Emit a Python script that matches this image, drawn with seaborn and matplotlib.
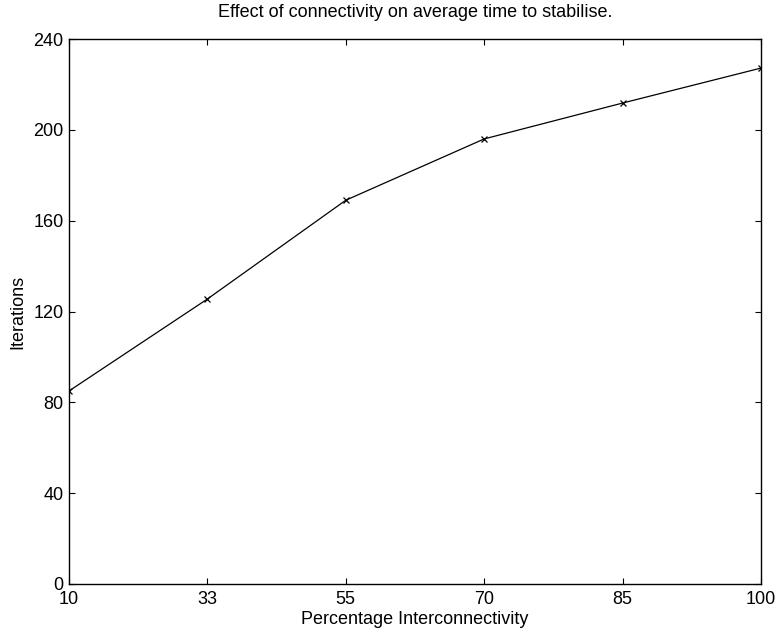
import matplotlib
matplotlib.use("Agg")
import matplotlib.pyplot as plt
import seaborn as sns
import pandas as pd

connectivity = ["10", "33", "55", "70", "85", "100"]
iterations = [85.0, 125.5, 169.0, 196.0, 211.8, 227.2]
y_ticks = [0, 40, 80, 120, 160, 200, 240]

sns.set_theme(style="white")
plt.rcParams['font.family'] = ['Liberation Sans', 'DejaVu Sans']

df = pd.DataFrame({"conn": connectivity, "iters": iterations})

fig = plt.figure(figsize=(7.79, 6.34), dpi=100)
ax = fig.add_axes([69/779, 50/634, (761-69)/779, (584-39)/634])

sns.lineplot(data=df, x="conn", y="iters", sort=False, ax=ax, color="black",
             linewidth=0.9, marker="x", markersize=5, markeredgewidth=0.9,
             markeredgecolor="black")

ax.set_xlim(0, len(connectivity) - 1)
ax.set_ylim(0, 240)
ax.set_yticks(y_ticks)
ax.set_yticklabels([str(t) for t in y_ticks])
ax.set_xticks(range(len(connectivity)))
ax.set_xticklabels(connectivity)

for s in ax.spines.values():
    s.set_visible(True)
    s.set_color("black")
    s.set_linewidth(1.0)

ax.tick_params(axis="both", which="both", direction="in", length=4.5, width=0.8,
               top=True, right=True, bottom=True, left=True,
               labelsize=13, colors="black")
ax.tick_params(axis="x", pad=5)
ax.tick_params(axis="y", pad=4)

ax.set_xlabel("Percentage Interconnectivity", fontsize=13, color="black", labelpad=2)
ax.set_ylabel("Iterations", fontsize=13, color="black", labelpad=5)
ax.set_title("Effect of connectivity on average time to stabilise.", fontsize=13,
             color="black", pad=16)

fig.savefig("out.png", dpi=100)
